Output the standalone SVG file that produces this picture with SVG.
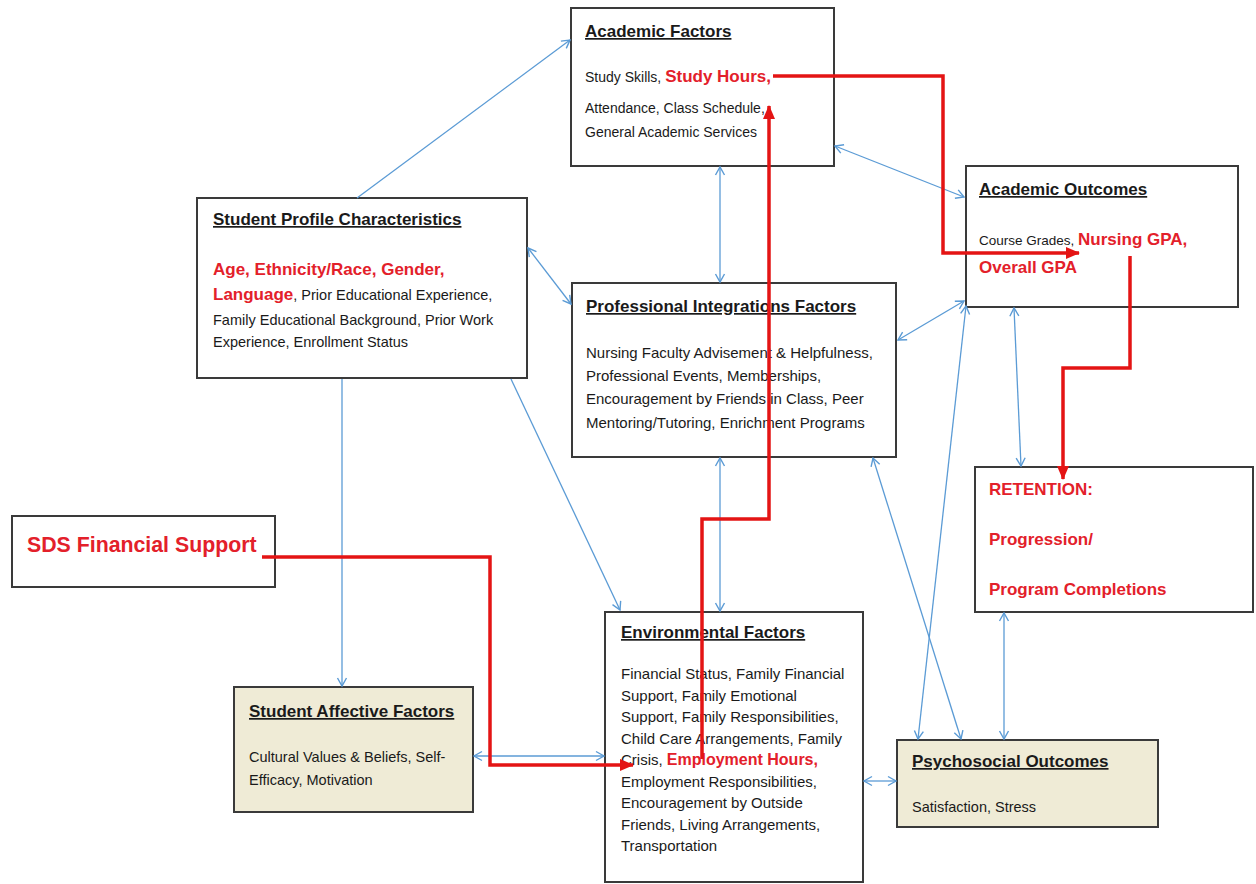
<svg xmlns="http://www.w3.org/2000/svg" width="1256" height="884" viewBox="0 0 1256 884">
<style>
.box{fill:#ffffff;stroke:#3a3a3a;stroke-width:2}
.beige{fill:#efebd6;stroke:#3a3a3a;stroke-width:2}
text{font-family:"Liberation Sans",Arial,sans-serif;fill:#1a1a1a}
.title{font-size:17px;font-weight:bold;text-decoration:underline}
.sm{font-size:14.5px}
.red{fill:#e3202a;font-weight:bold;font-size:17px}
.blue{fill:none;stroke:#5b9bd5;stroke-width:1.3}
.rline{fill:none;stroke:#e41414;stroke-width:3.5}
</style>
<defs>
<marker id="ba" markerUnits="userSpaceOnUse" markerWidth="12" markerHeight="12" refX="10" refY="6" orient="auto-start-reverse" viewBox="0 0 12 12">
<path d="M2,1.5 L10,6 L2,10.5" fill="none" stroke="#5b9bd5" stroke-width="1.4"/>
</marker>
<marker id="ra" markerUnits="userSpaceOnUse" markerWidth="14" markerHeight="14" refX="13" refY="7" orient="auto" viewBox="0 0 14 14">
<path d="M0,1 L14,7 L0,13 z" fill="#e41414"/>
</marker>
</defs>

<g id="academic-factors">
<rect class="box" x="571" y="8" width="263" height="158"/>
<text x="585" y="37" class="title">Academic Factors</text>
<text x="585" y="82"><tspan style="font-size:14px">Study Skills, </tspan><tspan class="red">Study Hours,</tspan></text>
<text x="585" y="113" style="font-size:14px">Attendance, Class Schedule,</text>
<text x="585" y="137" style="font-size:14px">General Academic Services</text>
</g>

<g id="academic-outcomes">
<rect class="box" x="966" y="166" width="272" height="141"/>
<text x="979" y="195" class="title">Academic Outcomes</text>
<text x="979" y="245"><tspan style="font-size:13.5px">Course Grades, </tspan><tspan class="red">Nursing GPA,</tspan></text>
<text x="979" y="273" class="red">Overall GPA</text>
</g>

<g id="student-profile">
<rect class="box" x="197" y="198" width="330" height="180"/>
<text x="213" y="225" class="title">Student Profile Characteristics</text>
<text x="213" y="275" class="red">Age, Ethnicity/Race, Gender,</text>
<text x="213" y="300"><tspan class="red">Language</tspan><tspan class="sm">, Prior Educational Experience,</tspan></text>
<text x="213" y="325" class="sm">Family Educational Background, Prior Work</text>
<text x="213" y="347" class="sm">Experience, Enrollment Status</text>
</g>

<g id="professional-integrations">
<rect class="box" x="572" y="283" width="324" height="174"/>
<text x="586" y="312" class="title">Professional Integrations Factors</text>
<text x="586" y="358" style="font-size:15px">Nursing Faculty Advisement &amp; Helpfulness,</text>
<text x="586" y="381" style="font-size:15px">Professional Events, Memberships,</text>
<text x="586" y="404" style="font-size:15px">Encouragement by Friends in Class, Peer</text>
<text x="586" y="428" style="font-size:15px">Mentoring/Tutoring, Enrichment Programs</text>
</g>

<g id="retention">
<rect class="box" x="975" y="467" width="278" height="145"/>
<text x="989" y="495" class="red">RETENTION:</text>
<text x="989" y="545" class="red">Progression/</text>
<text x="989" y="595" class="red">Program Completions</text>
</g>

<g id="sds-financial-support">
<rect class="box" x="12" y="516" width="263" height="71"/>
<text x="27" y="552" class="red" style="font-size:21.3px">SDS Financial Support</text>
</g>

<g id="student-affective">
<rect class="beige" x="234" y="687" width="239" height="125"/>
<text x="249" y="717" class="title">Student Affective Factors</text>
<text x="249" y="762" class="sm">Cultural Values &amp; Beliefs, Self-</text>
<text x="249" y="785" class="sm">Efficacy, Motivation</text>
</g>

<g id="environmental-factors">
<rect class="box" x="605" y="612" width="258" height="270"/>
<text x="621" y="638" class="title">Environmental Factors</text>
<text x="621" y="679" style="font-size:15px">Financial Status, Family Financial</text>
<text x="621" y="700.5" style="font-size:15px">Support, Family Emotional</text>
<text x="621" y="722" style="font-size:15px">Support, Family Responsibilities,</text>
<text x="621" y="743.5" style="font-size:15px">Child Care Arrangements, Family</text>
<text x="621" y="765"><tspan style="font-size:15px">Crisis, </tspan><tspan class="red" style="font-size:16px">Employment Hours,</tspan></text>
<text x="621" y="786.5" style="font-size:15px">Employment Responsibilities,</text>
<text x="621" y="808" style="font-size:15px">Encouragement by Outside</text>
<text x="621" y="829.5" style="font-size:15px">Friends, Living Arrangements,</text>
<text x="621" y="851" style="font-size:15px">Transportation</text>
</g>

<g id="psychosocial-outcomes">
<rect class="beige" x="897" y="740" width="261" height="87"/>
<text x="912" y="767" class="title">Psychosocial Outcomes</text>
<text x="912" y="812" class="sm">Satisfaction, Stress</text>
</g>

<g id="connectors">
<line class="blue" x1="357" y1="198" x2="570" y2="40" marker-end="url(#ba)"/>
<line class="blue" x1="720" y1="167" x2="720" y2="282" marker-start="url(#ba)" marker-end="url(#ba)"/>
<line class="blue" x1="835" y1="146" x2="964" y2="197" marker-start="url(#ba)" marker-end="url(#ba)"/>
<line class="blue" x1="898" y1="340" x2="964" y2="301" marker-start="url(#ba)" marker-end="url(#ba)"/>
<line class="blue" x1="528" y1="248" x2="571" y2="304" marker-start="url(#ba)" marker-end="url(#ba)"/>
<line class="blue" x1="342" y1="379" x2="342" y2="686" marker-end="url(#ba)"/>
<line class="blue" x1="511" y1="379" x2="620" y2="610" marker-end="url(#ba)"/>
<line class="blue" x1="720" y1="458" x2="720" y2="611" marker-start="url(#ba)" marker-end="url(#ba)"/>
<line class="blue" x1="873" y1="458" x2="961" y2="739" marker-start="url(#ba)" marker-end="url(#ba)"/>
<line class="blue" x1="966" y1="306" x2="918" y2="739" marker-start="url(#ba)" marker-end="url(#ba)"/>
<line class="blue" x1="1014" y1="308" x2="1021" y2="466" marker-start="url(#ba)" marker-end="url(#ba)"/>
<line class="blue" x1="1004" y1="613" x2="1004" y2="739" marker-start="url(#ba)" marker-end="url(#ba)"/>
<line class="blue" x1="474" y1="756" x2="604" y2="756" marker-start="url(#ba)" marker-end="url(#ba)"/>
<line class="blue" x1="864" y1="781" x2="896" y2="781" marker-start="url(#ba)" marker-end="url(#ba)"/>

<polyline class="rline" points="262,557 490,557 490,765 633,765" marker-end="url(#ra)"/>
<polyline class="rline" points="702,759 702,519 769,519 769,106" marker-end="url(#ra)"/>
<polyline class="rline" points="773,76 943,76 943,253 1079,253" marker-end="url(#ra)"/>
<polyline class="rline" points="1130,256 1130,368 1063,368 1063,479" marker-end="url(#ra)"/>
</g>
</svg>
